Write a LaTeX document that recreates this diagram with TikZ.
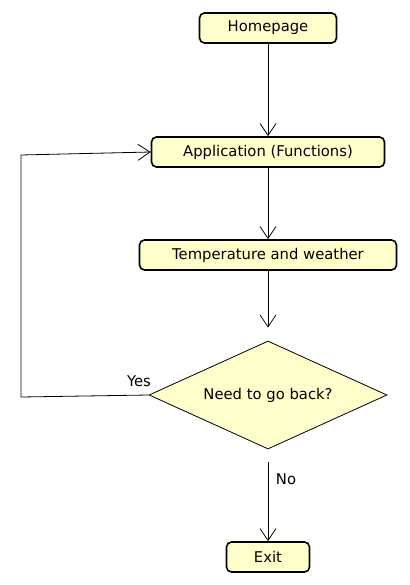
\documentclass[tikz,border=0pt]{standalone}
\usepackage{fontspec}
\setmainfont{DejaVu Sans}
\usetikzlibrary{shapes.geometric,arrows.meta}
\definecolor{boxfill}{HTML}{FFFFCC}
\begin{document}
\begin{tikzpicture}[x=1pt,y=-1pt,
  txt/.style={font=\fontsize{14.8}{17}\selectfont},
  stepbox/.style={draw, line width=1.6pt, rounded corners=5pt, fill=boxfill, inner sep=0pt, minimum height=30pt, txt},
  decision/.style={diamond, aspect=2.2, draw, line width=0.8pt, fill=boxfill, inner sep=0pt, minimum width=238pt, minimum height=108pt, txt},
  flow/.style={draw, line width=0.8pt, -{Straight Barb[length=12pt,width=16pt]}},
  lbl/.style={txt, inner sep=0pt}]
\useasboundingbox (0,0) rectangle (409,585);
\node[stepbox, minimum width=137pt] (home) at (268,28) {Homepage};
\node[stepbox, minimum width=233pt] (app) at (268,152) {Application (Functions)};
\node[stepbox, minimum width=257pt] (temp) at (268,255) {Temperature and weather};
\node[decision] (dec) at (268,395) {Need to go back?};
\node[stepbox, minimum width=83pt] (exit) at (268,557) {Exit};
\coordinate (c1) at (21,397);
\coordinate (c2) at (21,155);
\draw[flow] (home) -- (app);
\draw[flow] (app) -- (temp);
\draw[flow, shorten >=13pt] (temp) -- (dec);
\draw[flow, shorten <=13pt] (dec) -- (exit);
\draw[flow] (dec.west) -- (c1) -- (c2) -- (app.west);
\node[lbl] (yes) at (139,381) {Yes};
\node[lbl] (no) at (286,479) {No};
\end{tikzpicture}
\end{document}
